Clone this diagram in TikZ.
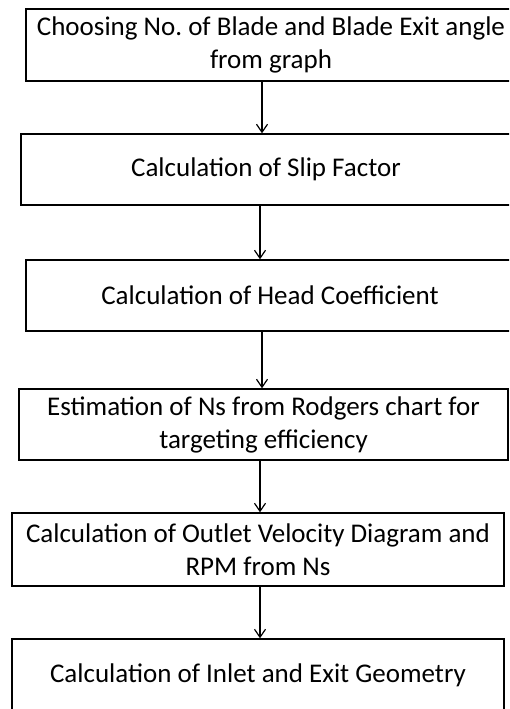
\documentclass[tikz,border=0pt]{standalone}
\usepackage{fontspec}
\setmainfont{Carlito}
\usetikzlibrary{arrows.meta}
\frenchspacing
\begin{document}
\begin{tikzpicture}[x=1pt,y=-1pt,
  stepbox/.style={draw=black,line width=1.4pt,rectangle,inner sep=0pt,align=center,
    font=\fontsize{27}{33}\selectfont,text=black},
  arr/.style={draw=black,line width=1.2pt,-{Straight Barb[length=8pt,width=11pt,line width=1.2pt]}}]
\useasboundingbox (0,0) rectangle (509,709);
\clip (0,0) rectangle (509,709);
\node[stepbox,minimum width=490pt,minimum height=72pt] (b1) at (271,45) {Choosing No.\ of Blade and Blade Exit angle\\from graph};
\node[stepbox,minimum width=490pt,minimum height=71pt] (b2) at (266,169.5) {Calculation of Slip Factor};
\node[stepbox,minimum width=488pt,minimum height=71pt] (b3) at (270,295.5) {Calculation of Head Coefficient};
\node[stepbox,minimum width=489pt,minimum height=71pt] (b4) at (263.5,424.5) {Estimation of Ns from Rodgers chart for\\targeting efficiency};
\node[stepbox,minimum width=492pt,minimum height=73pt] (b5) at (258,549.5) {Calculation of Outlet Velocity Diagram and\\RPM from Ns};
\node[stepbox,minimum width=492pt,minimum height=72pt] (b6) at (258,675) {Calculation of Inlet and Exit Geometry};
\coordinate (x1) at (262,0);
\coordinate (x2) at (260,0);
\coordinate (x3) at (262,0);
\coordinate (x4) at (260,0);
\coordinate (x5) at (260,0);
\draw[arr] (b1.south -| x1) -- (b2.north -| x1);
\draw[arr] (b2.south -| x2) -- (b3.north -| x2);
\draw[arr] (b3.south -| x3) -- (b4.north -| x3);
\draw[arr] (b4.south -| x4) -- (b5.north -| x4);
\draw[arr] (b5.south -| x5) -- (b6.north -| x5);
\end{tikzpicture}
\end{document}
